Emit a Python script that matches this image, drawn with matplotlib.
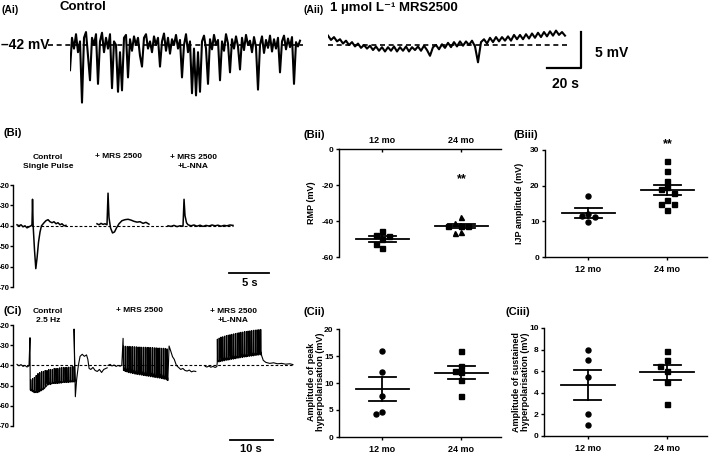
import numpy as np
import matplotlib
matplotlib.use('Agg')
import matplotlib.pyplot as plt

plt.rcParams['font.family'] = ['Liberation Sans', 'DejaVu Sans']
plt.rcParams['font.weight'] = 'bold'
plt.rcParams['axes.linewidth'] = 1.0

W, H = 709, 454

# ---------------- data ----------------
# (Ai) control recording, mV, one sample every ~1.18 s
ai_trace = [-45.5, -41, -42.5, -40.5, -43, -41.5, -50, -41, -40.2, -43.5,
            -46.9, -41, -42, -40.5, -47.4, -41.5, -40.3, -43, -41, -42.5,
            -40.5, -48, -41.5, -42, -48.5, -43, -48.3, -41, -40.6, -46.5,
            -41.2, -42.8, -40.8, -42, -41, -43.5, -45, -41, -40.5, -42.5,
            -41.5, -43, -40.8, -42, -41, -45, -41.5, -40.4, -42.8, -41,
            -43.2, -41.2, -42, -40.6, -42.5, -41.3, -46.5, -42, -40.5, -43,
            -41.5, -48.7, -42.5, -49, -43, -48.5, -41.5, -40.7, -42.5, -47.4,
            -41.2, -42.6, -40.6, -42, -41.3, -46.9, -41.5, -42.8, -40.5, -41.8,
            -45.8, -41.2, -42.5, -40.8, -42.2, -45.4, -41, -42.7, -40.6, -42,
            -41.4, -43, -40.9, -42.3, -48.2, -42, -40.8, -43.1, -41.3, -42.4,
            -40.7, -42.9, -41.2, -42.5, -41, -45.8, -41.5, -40.7, -42.6, -41.1,
            -42.3, -40.9, -47.4, -41.6, -42.2, -41.4]
# (Aii) with 1 umol/L MRS2500, mV, one sample every ~1.76 s
aii_trace = [-40.7, -41.3, -40.9, -41.5, -41.2, -41.8, -41.4, -42.0, -41.6, -42.2,
             -41.8, -42.4, -42.0, -42.5, -42.1, -42.7, -42.2, -42.8, -42.3, -42.9,
             -42.3, -42.8, -42.2, -42.9, -42.3, -42.8, -42.2, -42.9, -42.3, -42.7,
             -42.2, -42.8, -42.1, -42.7, -43.5, -42.3, -42.0, -42.6, -41.9, -42.4,
             -41.7, -42.3, -41.6, -42.2, -41.5, -42.1, -41.5, -42.0, -41.4, -42.2,
             -44.4, -41.6, -41.2, -41.8, -41.0, -41.6, -40.9, -41.5, -40.9, -41.4,
             -40.8, -41.4, -40.6, -41.2, -40.6, -41.2, -40.5, -41.1, -40.4, -41.0,
             -40.3, -40.9, -40.2, -40.8, -40.1, -40.7, -40.0, -40.6, -40.2, -40.7]
a_rmp = -42

# (Bi) single pulse traces: time (s), membrane potential (mV)
bi_ctrl_t = [0.5, 0.75, 1.0, 1.25, 1.5, 1.75, 2.0, 2.25, 2.375, 2.44, 2.52, 2.69, 2.85,
             3.0, 3.19, 3.38, 3.56, 3.88, 4.12, 4.38, 4.62, 4.88, 5.12, 5.38, 5.62,
             5.88, 6.12, 6.38, 6.62]
bi_ctrl_v = [-39.5, -40, -39.5, -40.5, -40, -41, -40.5, -40, -39.5, -27, -40, -52, -61,
             -56, -48, -43, -40, -38.5, -37.5, -37, -38, -38.5, -38, -39, -38.5,
             -39.5, -39, -40, -39.8]
bi_mrs_t = [10.5, 10.75, 11.0, 11.25, 11.5, 11.75, 11.88, 12.0, 12.19, 12.44, 12.69,
            12.94, 13.25, 13.62, 14.0, 14.38, 14.75, 15.12, 15.5, 15.88, 16.25, 16.62, 17.0]
bi_mrs_v = [-39, -39.5, -38.8, -39.3, -39, -39.5, -24, -36, -41, -43.5, -43,
            -41, -39, -37.5, -37, -36.8, -37.2, -37.8, -38.2, -38, -38.8, -38.3, -39.2]
bi_lnna_t = [19.38, 19.75, 20.12, 20.5, 20.88, 21.25, 21.38, 21.5, 21.69, 21.88, 22.25,
             22.62, 23.0, 23.38, 23.75, 24.12, 24.5, 24.88, 25.25, 25.62, 26.0, 26.38,
             26.75, 27.12, 27.5]
bi_lnna_v = [-40, -40.3, -39.8, -40.4, -40, -40.2, -27, -35, -38.5, -39.5, -40,
             -39.6, -40.2, -39.7, -40.3, -39.8, -40.1, -39.6, -40, -39.7, -40.2, -39.8,
             -40, -39.6, -39.8]

# (Ci) 2.5 Hz trains: pre / train peaks & troughs / post
ci_ctrl_pre_t = [0.93, 1.40, 1.86, 2.33, 2.79, 3.26, 3.72, 3.95, 4.0]
ci_ctrl_pre_v = [-39.5, -40.2, -39.6, -40.5, -40, -40.8, -40.2, -26.3, -52]
ci_ctrl_up = [-47, -46.5, -46, -45, -44, -43.5, -43, -43, -42.5, -42.5, -42, -42, -42,
              -41.5, -41.5, -41.5, -41.2, -41, -41, -41, -41, -40.8, -40.8, -40.5, -40.5]
ci_ctrl_lo = [-52.5, -53, -53.5, -53.5, -53.5, -53, -52.5, -52, -51, -50, -49.5, -49.5,
              -49, -49, -49, -49, -48.8, -48.8, -48.5, -48.5, -48.5, -48.5, -48.3, -48.3, -48.2]
ci_ctrl_post_t = [14.2, 14.5, 14.8, 15.2, 15.6, 16.1, 16.6, 17.1, 17.4, 17.7, 18.1, 18.6,
                  19.1, 19.6, 20.1, 20.6, 21.1, 21.6, 21.9]
ci_ctrl_post_v = [-22, -55.5, -47, -40, -35.5, -34.5, -35.5, -34.8, -37, -41.5, -42,
                  -41, -42.5, -43, -42, -43.5, -42, -41.5, -41.2]
ci_mrs_pre_t = [22.1, 22.6, 23.0, 23.5, 24.0, 24.4, 24.9, 25.3, 25.6]
ci_mrs_pre_v = [-40, -39.5, -40.3, -39.8, -40.5, -40, -40.4, -40, -26.6]
ci_mrs_up = [-30.5, -30.5, -30.6, -30.6, -30.7, -30.7, -30.8, -30.8, -30.9, -30.9, -31,
             -31, -31, -31.1, -31.1, -31.2, -31.2, -31.3, -31.3, -31.4, -31.4, -31.5,
             -31.5, -31.6, -31.8]
ci_mrs_lo = [-42.5, -43, -43.3, -43.6, -43.8, -44, -44.2, -44.4, -44.5, -44.7, -44.8, -45,
             -45.1, -45.3, -45.4, -45.6, -45.7, -45.9, -46, -46.2, -46.3, -46.5, -46.7,
             -46.9, -47.2]
ci_mrs_post_t = [36.0, 36.3, 36.7, 37.1, 37.5, 38.0, 38.5, 39.0, 39.5, 40.0, 40.5, 41.0,
                 41.5, 42.0, 42.5]
ci_mrs_post_v = [-47.5, -30.4, -33, -35.7, -37, -40, -41, -42, -41.5, -42.5, -42.8,
                 -42.3, -43.2, -42.8, -43]
ci_lnna_pre_t = [44.7, 45.1, 45.6, 46.0, 46.5, 47.0, 47.4]
ci_lnna_pre_v = [-40.5, -40.8, -40.3, -40.9, -40.5, -41, -40.6]
ci_lnna_up = [-27, -26.5, -26, -25.8, -25.5, -25.2, -25, -24.8, -24.6, -24.4, -24.2, -24,
              -23.8, -23.6, -23.5, -23.3, -23.2, -23, -22.9, -22.8, -22.6, -22.5, -22.4,
              -22.3, -22.2]
ci_lnna_lo = [-38.5, -38.3, -38.1, -37.9, -37.7, -37.5, -37.4, -37.2, -37, -36.9, -36.7,
              -36.5, -36.4, -36.2, -36.1, -35.9, -35.8, -35.6, -35.5, -35.4, -35.3, -35.1,
              -35, -34.9, -34.8]
ci_lnna_post_t = [57.8, 58.2, 58.8, 59.7, 60.6, 61.5, 62.5, 63.4, 64.4, 65.1]
ci_lnna_post_v = [-35, -37.5, -38.5, -39, -38.7, -39.2, -39, -39.4, -39.2, -39.6]
ci_train_start = [4.1, 25.7, 47.5]
stim_hz = 2.5

groups = ['12 mo', '24 mo']
rmp_12 = [-45.5, -48, -48.5, -50, -53, -55]
rmp_24 = [-38, -41, -42.5, -42.5, -42.5, -46, -46.5]
rmp_24_mk = ['^', '^', 's', 's', 's', '^', '^']
ijp_12 = [17.2, 12, 11.6, 11.1, 9.7]
ijp_24 = [27, 24, 21.4, 19.5, 19.2, 18, 16, 15, 15, 13.2]
peak_12 = [16, 12, 7.6, 4.6, 4.2]
peak_24 = [16, 13.2, 12.2, 12, 10.5, 7.6]
sust_12 = [8, 7, 5.5, 2, 1]
sust_24 = [7.9, 7, 6.5, 6, 5, 3]


def rect(l, t, r, b):
    return [l / W, 1 - b / H, (r - l) / W, (b - t) / H]


def ftext(x, y, s, **kw):
    kw.setdefault('ha', 'left')
    kw.setdefault('va', 'center')
    kw.setdefault('fontweight', 'bold')
    fig.text(x / W, 1 - y / H, s, **kw)


def swarm(vals, tol, step):
    placed, offs = [], []
    for v in vals:
        for k in [0, -1, 1, -2, 2, -3, 3]:
            o = k * step
            if all(abs(o - po) > step * 0.9 or abs(v - pv) >= tol for po, pv in placed):
                break
        placed.append((o, v))
        offs.append(o)
    return np.array(offs)


def train(start, up, lo):
    t, v = [], []
    for k in range(len(up)):
        tk = start + k / stim_hz * 1.05
        d = up[k] - lo[k]
        t += [tk, tk + 0.03, tk + 0.08, tk + 0.2]
        v += [lo[k], up[k], lo[k] + d * 0.15, lo[k] + d * 0.05]
    return t, v


fig = plt.figure(figsize=(W / 100, H / 100), dpi=100)

# ---------------- (Ai) / (Aii) ----------------
pxs, pxmv = 1.7, 7.2
top_lim = (a_rmp - 60 / pxmv, a_rmp + 25 / pxmv)
axa = fig.add_axes(rect(70, 20, 306, 105))
axa.set_xlim(0, 236 / pxs)
axa.set_ylim(*top_lim)
axa.axis('off')
ta = np.arange(len(ai_trace)) * (2 / pxs)
axa.plot([-22 / pxs, ta[-1] + 3 / pxs], [a_rmp, a_rmp], 'k--', lw=1.2, dashes=(3, 2.2), clip_on=False)
axa.plot(ta, ai_trace, color='k', lw=1.5)
ftext(1, 45, '\u201342 mV', fontsize=10)

axb = fig.add_axes(rect(328, 20, 620, 105))
axb.set_xlim(0, 292 / pxs)
axb.set_ylim(*top_lim)
axb.axis('off')
tb = np.arange(len(aii_trace)) * (3 / pxs)
axb.plot([0, tb[-1] + 2], [a_rmp, a_rmp], 'k--', lw=1.2, dashes=(3, 2.2))
axb.plot(tb, aii_trace, color='k', lw=1.5)
xs0 = (547 - 328) / pxs
axb.plot([xs0, xs0 + 20, xs0 + 20], [a_rmp - 23 / pxmv] * 2 + [a_rmp - 23 / pxmv + 5], color='k', lw=1.6,
         clip_on=False)
ftext(595, 53, '5 mV', fontsize=10)
ftext(565, 84, '20 s', fontsize=10, ha='center')

ftext(2, 10, '(Ai)', fontsize=7.5)
ftext(60, 7, 'Control', fontsize=9.5)
ftext(303, 10, '(Aii)', fontsize=7.5)
ftext(330, 8, '1 \u00b5mol L\u207b\u00b9 MRS2500', fontsize=9.5)


def trace_axes(r, xmax):
    ax = fig.add_axes(r)
    ax.set_xlim(0, xmax)
    ax.set_ylim(-70, -20)
    for s in ['top', 'right', 'bottom']:
        ax.spines[s].set_visible(False)
    ax.set_xticks([])
    ax.set_yticks(range(-70, -19, 10))
    ax.set_yticklabels(['-%d' % -v for v in range(-70, -19, 10)])
    ax.tick_params(axis='y', length=2, width=1, pad=0.5, labelsize=5.5)
    return ax


# ---------------- (Bi) ----------------
axbi = trace_axes(rect(13, 185, 275, 287), 262 / 8)
axbi.plot([0.5, 27.5], [-40, -40], 'k--', lw=0.8, dashes=(2.5, 1.8))
for t, v in [(bi_ctrl_t, bi_ctrl_v), (bi_mrs_t, bi_mrs_v), (bi_lnna_t, bi_lnna_v)]:
    axbi.plot(t, v, color='k', lw=1.1)
axbi.plot([27, 32], [-63.1, -63.1], color='k', lw=1.3, clip_on=False)
ftext(250, 283, '5 s', fontsize=8, ha='center')
ftext(3, 133, '(Bi)', fontsize=8)
ftext(48, 162, 'Control\nSingle Pulse', fontsize=6, ha='center', linespacing=1.25)
ftext(119, 156, '+ MRS 2500', fontsize=6, ha='center')
ftext(193, 162, '+ MRS 2500\n+L-NNA', fontsize=6, ha='center', linespacing=1.25)

# ---------------- (Ci) ----------------
axci = trace_axes(rect(13, 325, 295, 426), 282 / 4.3)
axci.plot([0.9, 65.1], [-40, -40], 'k--', lw=0.8, dashes=(2.5, 1.8))
segs = [(ci_ctrl_pre_t, ci_ctrl_pre_v, ci_ctrl_up, ci_ctrl_lo, ci_ctrl_post_t, ci_ctrl_post_v),
        (ci_mrs_pre_t, ci_mrs_pre_v, ci_mrs_up, ci_mrs_lo, ci_mrs_post_t, ci_mrs_post_v),
        (ci_lnna_pre_t, ci_lnna_pre_v, ci_lnna_up, ci_lnna_lo, ci_lnna_post_t, ci_lnna_post_v)]
for (pt, pv, up, lo, qt, qv), st in zip(segs, ci_train_start):
    tt, tv = train(st, up, lo)
    axci.plot(list(pt) + tt + list(qt), list(pv) + tv + list(qv), color='k', lw=0.8)
axci.plot([50.5, 60.5], [-76.9, -76.9], color='k', lw=1.3, clip_on=False)
ftext(251, 449, '10 s', fontsize=8, ha='center')
ftext(3, 311, '(Ci)', fontsize=8)
ftext(48, 316, 'Control\n2.5 Hz', fontsize=6, ha='center', linespacing=1.25)
ftext(140, 311, '+ MRS 2500', fontsize=6, ha='center')
ftext(233, 316, '+ MRS 2500\n+L-NNA', fontsize=6, ha='center', linespacing=1.25)


# ---------------- scatter panels ----------------
def dot_panel(r, ylim, yticks, data, markers, top=False):
    ax = fig.add_axes(r)
    ax.set_xlim(0.45, 2.5)
    ax.set_ylim(*ylim)
    ax.spines['right'].set_visible(False)
    ax.spines['bottom' if top else 'top'].set_visible(False)
    ppu = (r[3] * H) / (ylim[1] - ylim[0])
    for i, (vals, mk) in enumerate(zip(data, markers)):
        x0 = i + 1
        offs = swarm(vals, 5.5 / ppu, 0.085)
        mks = mk if isinstance(mk, list) else [mk] * len(vals)
        for o, v, m in zip(offs, vals, mks):
            ax.plot(x0 + o, v, marker=m, color='k', ms=3.6, ls='none')
        m = np.mean(vals)
        se = np.std(vals, ddof=1) / np.sqrt(len(vals))
        ax.plot([x0 - 0.34, x0 + 0.34], [m, m], color='k', lw=1.3)
        ax.plot([x0 - 0.17, x0 + 0.17], [m + se, m + se], color='k', lw=1.3)
        ax.plot([x0 - 0.17, x0 + 0.17], [m - se, m - se], color='k', lw=1.3)
        ax.plot([x0, x0], [m - se, m + se], color='k', lw=1.3)
    ax.set_xticks([1, 2])
    ax.set_xticklabels(groups, fontsize=6.5, fontweight='bold')
    ax.set_yticks(yticks)
    ax.set_yticklabels([('-%g' % -v) if v < 0 else '%g' % v for v in yticks], fontsize=6)
    ax.tick_params(axis='y', length=2.5, width=1, pad=1.5)
    if top:
        ax.xaxis.tick_top()
        ax.tick_params(axis='x', direction='in', length=2.5, width=1, pad=3)
    else:
        ax.tick_params(axis='x', length=2.5, width=1, pad=3)
    return ax


axbii = dot_panel(rect(339, 149, 501, 257), (-60, 0), [-60, -40, -20, 0], [rmp_12, rmp_24],
                  ['s', rmp_24_mk], top=True)
axbii.text(2, -17, '**', ha='center', va='center', fontsize=9)
axbiii = dot_panel(rect(545, 150, 707, 257), (0, 30), [0, 10, 20, 30], [ijp_12, ijp_24], ['o', 's'])
axbiii.text(2, 31.5, '**', ha='center', va='center', fontsize=9)
dot_panel(rect(339, 329, 501, 437), (0, 20), [0, 5, 10, 15, 20], [peak_12, peak_24], ['o', 's'])
dot_panel(rect(544, 328, 707, 436), (0, 10), [0, 2, 4, 6, 8, 10], [sust_12, sust_24], ['o', 's'])

ftext(312, 203, 'RMP (mV)', fontsize=6.5, rotation=90, ha='center')
ftext(520, 203, 'IJP amplitude (mV)', fontsize=6.5, rotation=90, ha='center')
ftext(316, 382, 'Amplitude of peak\nhyperpolarisation (mV)', fontsize=6.5, rotation=90, ha='center',
      linespacing=1.1)
ftext(521, 382, 'Amplitude of sustained\nhyperpolarisation (mV)', fontsize=6.5, rotation=90, ha='center',
      linespacing=1.1)
ftext(303, 135, '(Bii)', fontsize=8)
ftext(513, 135, '(Biii)', fontsize=8)
ftext(303, 312, '(Cii)', fontsize=8)
ftext(506, 312, '(Ciii)', fontsize=8)

fig.savefig('out.png', dpi=100)
